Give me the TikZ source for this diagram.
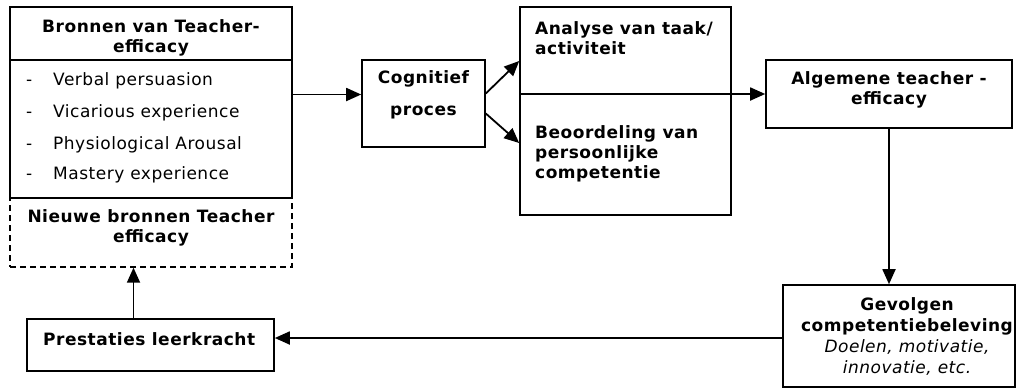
\documentclass[tikz,border=0pt]{standalone}
\usepackage{fontspec}
\setmainfont{DejaVu Sans}[LetterSpace=3]
\usepackage{tikz}
\usetikzlibrary{positioning, arrows.meta}

\begin{document}
\begin{tikzpicture}[
    x=1pt, y=-1pt,
    box/.style={rectangle, draw=black, line width=1.6pt, inner sep=0pt},
    dbox/.style={box, line width=1.4pt, dash pattern=on 6pt off 4pt},
    txt/.style={inner sep=0pt, align=center, font=\fontsize{17}{20}\selectfont\bfseries},
    item/.style={inner sep=0pt, anchor=base west, font=\fontsize{17}{20}\selectfont},
    arr/.style={line width=1.8pt, -{Triangle[length=15pt, width=13pt]}}
]
\useasboundingbox (0,0) rectangle (1018,389);

% boxes
\node[box, minimum width=282pt, minimum height=191pt] (bron) at (151,102.5) {};
\node[dbox, minimum width=282pt, minimum height=69pt] (nieuw) at (151,232.5) {};
\node[box, minimum width=123pt, minimum height=87pt] (cog) at (423.5,103.5) {};
\node[box, minimum width=211pt, minimum height=208pt] (ana) at (625.5,111) {};
\node[box, minimum width=246pt, minimum height=68pt] (alg) at (889,94) {};
\node[box, minimum width=232pt, minimum height=102pt] (gev) at (899,336) {};
\node[box, minimum width=247pt, minimum height=52pt] (pres) at (150.5,345) {};
\draw[line width=1.6pt] (bron.west |- 0,60) -- (bron.east |- 0,60);

% texts
\node[txt] (bron-t) at (151,38) {Bronnen van Teacher-\\efficacy};
\foreach \t [count=\i] in {Verbal persuasion, Vicarious experience, Physiological Arousal, Mastery experience} {
  \node[item] (dash\i) at (26,{53+32*\i-(\i==4 ? 2 : 0)}) {-};
  \node[item] (src\i) at (53,{53+32*\i-(\i==4 ? 2 : 0)}) {\t};
}
\node[txt] (nieuw-t) at (151,228) {Nieuwe bronnen Teacher\\efficacy};
\node[txt] (cog-t) at (423.5,95) {Cognitief\\[12pt]proces};
\node[txt, anchor=west, align=left] (ana-t) at (535,38) {Analyse van taak/\\activiteit};
\node[txt, anchor=west, align=left] (beo-t) at (535,154) {Beoordeling van\\persoonlijke\\competentie};
\node[txt] (alg-t) at (889,90) {Algemene teacher -\\efficacy};
\node[txt, font=\fontsize{17}{21}\selectfont\bfseries] (gev-t) at (907,337) {Gevolgen\\competentiebeleving\\\mdseries\itshape Doelen, motivatie,\\\mdseries\itshape innovatie, etc.};
\node[txt, anchor=west] (pres-t) at (43,339) {Prestaties leerkracht};

% connectors
\draw[arr] ([yshift=8pt]bron.east) -- ([yshift=8pt]bron.east -| cog.west);
\draw[arr] ([yshift=10pt]cog.east) -- ([yshift=50pt]ana.west);
\draw[arr] ([yshift=-10pt]cog.east) -- ([yshift=-32pt]ana.west);
\draw[arr] (ana.west |- alg.west) -- (alg.west);
\draw[arr] (alg.south) -- (alg.south |- gev.north);
\draw[arr] ([yshift=-2pt]gev.west) -- ([yshift=-2pt]gev.west -| pres.east);
\draw[arr] ([xshift=-17pt]pres.north) -- ([xshift=-17pt]pres.north |- nieuw.south);
\end{tikzpicture}
\end{document}
